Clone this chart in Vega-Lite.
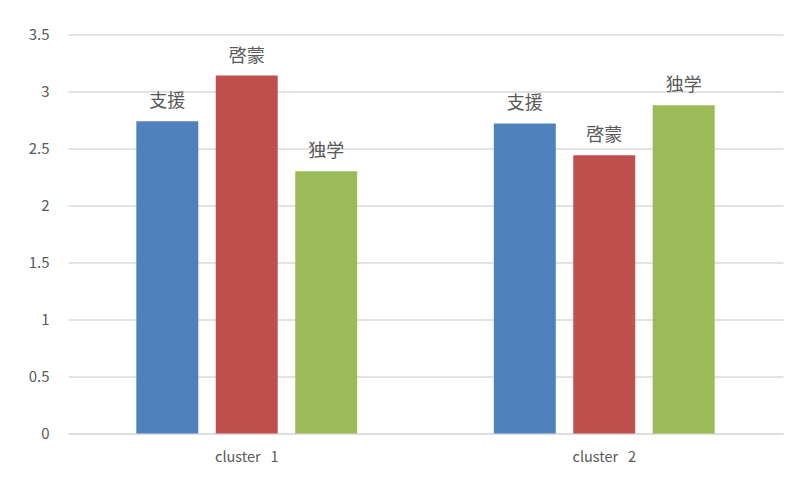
{
  "$schema": "https://vega.github.io/schema/vega-lite/v6.json",
  "width": 715,
  "height": 399,
  "autosize": {"type": "none"},
  "padding": {"left": 68, "top": 34.5, "right": 17, "bottom": 47.5},
  "background": "white",
  "config": {
    "view": {"stroke": null},
    "font": "Noto Sans CJK JP"
  },
  "data": {
    "values": [
      {"cluster": "cluster\u00a0\u00a0 1", "type": "支援", "value": 2.74},
      {"cluster": "cluster\u00a0\u00a0 1", "type": "啓蒙", "value": 3.14},
      {"cluster": "cluster\u00a0\u00a0 1", "type": "独学", "value": 2.30},
      {"cluster": "cluster\u00a0\u00a0 2", "type": "支援", "value": 2.72},
      {"cluster": "cluster\u00a0\u00a0 2", "type": "啓蒙", "value": 2.44},
      {"cluster": "cluster\u00a0\u00a0 2", "type": "独学", "value": 2.88}
    ]
  },
  "encoding": {
    "x": {
      "field": "cluster",
      "type": "nominal",
      "scale": {"paddingInner": 0, "paddingOuter": 0},
      "axis": {
        "title": null,
        "labelAngle": 0,
        "domain": true,
        "domainColor": "#d9d9d9",
        "ticks": false,
        "tickSize": 0,
        "labelPadding": 17,
        "labelColor": "#595959",
        "labelFontSize": 14.5,
        "labelFont": "Noto Sans CJK JP"
      }
    },
    "xOffset": {
      "field": "type",
      "type": "nominal",
      "sort": ["支援", "啓蒙", "独学"],
      "scale": {"paddingInner": 0.22, "paddingOuter": 0.86}
    },
    "y": {
      "field": "value",
      "type": "quantitative",
      "scale": {"domain": [0, 3.5]},
      "axis": {
        "title": null,
        "values": [0, 0.5, 1, 1.5, 2, 2.5, 3, 3.5],
        "format": "~g",
        "domain": false,
        "ticks": false,
        "tickSize": 0,
        "labelPadding": 19,
        "gridColor": "#d9d9d9",
        "gridWidth": 1.3,
        "labelColor": "#595959",
        "labelFontSize": 15,
        "labelFont": "Noto Sans CJK JP"
      }
    }
  },
  "layer": [
    {
      "mark": {"type": "bar"},
      "encoding": {
        "color": {
          "field": "type",
          "type": "nominal",
          "sort": ["支援", "啓蒙", "独学"],
          "scale": {"domain": ["支援", "啓蒙", "独学"], "range": ["#4F81BD", "#C0504D", "#9BBB59"]},
          "legend": null
        }
      }
    },
    {
      "mark": {"type": "text", "baseline": "bottom", "dy": -10, "fontSize": 18, "color": "#595959", "font": "Noto Sans CJK JP"},
      "encoding": {
        "text": {"field": "type", "type": "nominal"}
      }
    }
  ]
}
